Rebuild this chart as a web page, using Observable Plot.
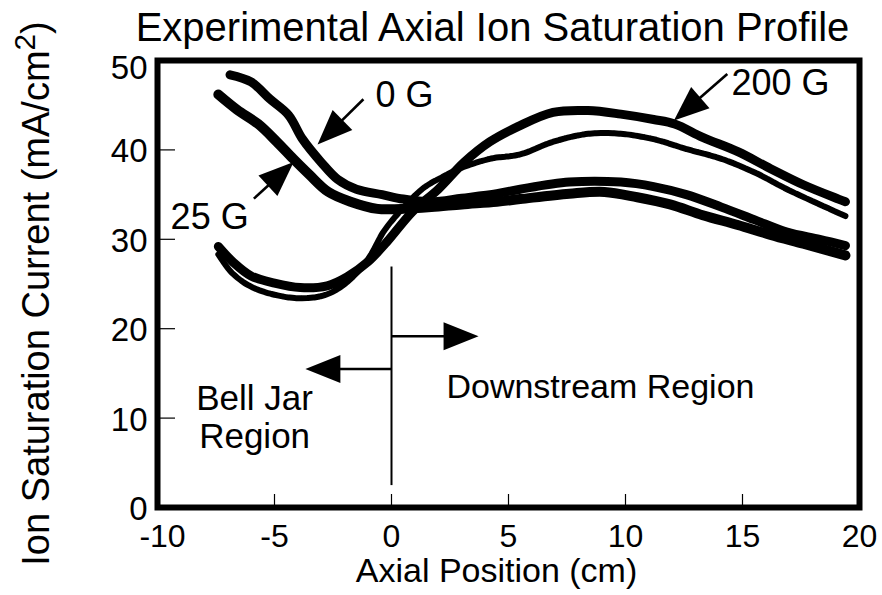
<!DOCTYPE html>
<html>
<head>
<meta charset="utf-8">
<script src="https://cdn.jsdelivr.net/npm/d3@7"></script>
<script src="https://cdn.jsdelivr.net/npm/@observablehq/plot@0.6"></script>
<style>
  html, body { margin: 0; padding: 0; background: #fff; }
  svg { display: block; }
</style>
</head>
<body>
<div id="chart"></div>
<script>
// ---------- text ----------
const titleText = "Experimental Axial Ion Saturation Profile";
const xLabelText = "Axial Position (cm)";
const yLabelText = "Ion Saturation Current (mA/cm2)";

// ---------- ticks ----------
const xTicks = [-10, -5, 0, 5, 10, 15, 20];
const yTicks = [0, 10, 20, 30, 40, 50];

// ---------- series ----------
// 0 G
const g0X = [-6.9, -6.0, -5.2, -4.4, -3.8, -3.0, -2.3, -1.5, -0.4, 0.5, 1.7, 3.0, 4.5, 5.5, 7.6, 9.8, 11.2, 12.6, 14.1, 15.5, 16.9, 18.3, 19.4];
const g0Y = [48.4, 47.6, 45.7, 43.9, 41.2, 38.6, 36.7, 35.6, 35.0, 34.5, 34.2, 34.6, 35.1, 35.6, 36.4, 36.4, 35.9, 35.0, 33.6, 32.2, 30.8, 30.0, 29.3];
// 25 G
const g25X = [-7.4, -6.6, -5.7, -4.9, -4.2, -3.5, -2.7, -1.75, -0.6, 0.4, 1.7, 3.0, 4.5, 5.5, 7.6, 9.1, 10.5, 11.9, 13.3, 14.8, 16.2, 17.6, 19.4];
const g25Y = [46.2, 44.5, 42.9, 40.9, 39.0, 37.2, 35.3, 34.2, 33.4, 33.4, 33.6, 33.9, 34.2, 34.5, 35.1, 35.3, 34.7, 33.9, 32.7, 31.6, 30.5, 29.5, 28.2];
// 200 G
const g200X = [-7.4, -6.75, -6.0, -5.0, -3.9, -2.75, -1.9, -1.0, -0.2, 0.9, 2.0, 3.1, 4.2, 5.4, 6.9, 8.4, 9.8, 11.2, 12.1, 13.3, 14.8, 16.2, 17.6, 19.1, 19.4];
const g200Y = [29.2, 27.4, 25.9, 25.1, 24.6, 24.8, 25.8, 27.5, 29.7, 33.1, 35.6, 38.6, 40.9, 42.6, 44.2, 44.4, 44.0, 43.4, 42.9, 41.4, 39.8, 37.9, 36.1, 34.5, 34.2];
// unlabeled (speckled) profile
const gMidX = [-7.4, -6.8, -6.0, -5.0, -3.9, -2.8, -1.9, -1.0, -0.3, 0.6, 1.4, 2.2, 2.8, 4.2, 5.5, 6.9, 8.4, 9.8, 11.2, 12.6, 14.1, 15.5, 16.9, 18.3, 19.4];
const gMidY = [28.3, 26.2, 24.7, 23.8, 23.4, 23.8, 25.2, 27.8, 31.0, 33.8, 35.8, 37.0, 37.8, 39.0, 39.5, 40.9, 41.8, 41.8, 41.2, 40.1, 39.0, 37.5, 35.6, 33.9, 32.6];

// ---------- annotations (data coordinates) ----------
const arrows = [
  {tail: [-1.2, 45.66], tip: [-3.16, 40.6]},   // 0 G
  {tail: [-5.88, 34.55], tip: [-4.18, 38.64]}, // 25 G
  {tail: [14.35, 48.48], tip: [12.07, 43.28]}, // 200 G
  {tail: [0, 19.15], tip: [3.72, 19.15]},      // Downstream
  {tail: [0, 15.5], tip: [-3.68, 15.5]}        // Bell jar
];
const dividerX = [0];
const dividerY = [2.45, 26.9];
const curveLabels = [
  {text: "0 G", x: -0.68, y: 44.77},
  {text: "25 G", x: -9.44, y: 31.18},
  {text: "200 G", x: 14.53, y: 46.1}
];
const regionLabels = [
  {text: "Downstream Region", x: 8.93, y: 12.25},
  {text: "Bell Jar\nRegion", x: -5.85, y: 6.68}
];

// ---------- layout ----------
const W = 882, H = 595;
const mL = 157, mR = 23, mT = 60, mB = 88;
const FONT = "'Liberation Sans', Arial, Helvetica, sans-serif";
const xDomain = [-10, 20], yDomain = [0, 50];

const sx = Plot.scale({x: {domain: xDomain, range: [mL, W - mR]}});
const sy = Plot.scale({y: {domain: yDomain, range: [H - mB, mT]}});

const rows = (xs, ys) => xs.map((x, i) => ({x, y: ys[i]}));

// arrow heads & shafts computed in pixel space, converted back through the scales
const HEAD_LEN = 35, HEAD_HALF = 14;
const heads = [];
const shafts = [];
arrows.forEach((a, k) => {
  const tx = sx.apply(a.tip[0]), ty = sy.apply(a.tip[1]);
  const ax = sx.apply(a.tail[0]), ay = sy.apply(a.tail[1]);
  const len = Math.hypot(tx - ax, ty - ay);
  const ux = (tx - ax) / len, uy = (ty - ay) / len;
  const bx = tx - HEAD_LEN * ux, by = ty - HEAD_LEN * uy;
  const nx = -uy, ny = ux;
  [[tx, ty], [bx + HEAD_HALF * nx, by + HEAD_HALF * ny], [bx - HEAD_HALF * nx, by - HEAD_HALF * ny]]
    .forEach(([px, py]) => heads.push({k, x: sx.invert(px), y: sy.invert(py)}));
  const ex = tx - (HEAD_LEN - 6) * ux, ey = ty - (HEAD_LEN - 6) * uy;
  shafts.push({x1: a.tail[0], y1: a.tail[1], x2: sx.invert(ex), y2: sy.invert(ey)});
});

const innerXTicks = xTicks.filter(d => d !== xDomain[0] && d !== xDomain[1]);
const innerYTicks = yTicks.filter(d => d !== yDomain[0] && d !== yDomain[1]);

const svg = Plot.plot({
  width: W,
  height: H,
  marginLeft: mL,
  marginRight: mR,
  marginTop: mT,
  marginBottom: mB,
  x: {domain: xDomain, axis: null},
  y: {domain: yDomain, axis: null},
  style: {fontFamily: FONT, background: "white", color: "black", overflow: "visible"},
  marks: [
    // inward ticks
    Plot.ruleX(innerXTicks, {x: d => d, insetTop: (H - mB - mT) - 13, stroke: "black", strokeWidth: 1.2}),
    Plot.ruleY(innerYTicks, {y: d => d, insetRight: (W - mR - mL) - 18, stroke: "black", strokeWidth: 1.2}),
    // data
    Plot.line(rows(gMidX, gMidY), {x: "x", y: "y", stroke: "black", strokeWidth: 6, curve: "catmull-rom", strokeDasharray: "5,1.2"}),
    Plot.line(rows(g200X, g200Y), {x: "x", y: "y", stroke: "black", strokeWidth: 9, curve: "catmull-rom", strokeLinejoin: "round"}),
    Plot.line(rows(g25X, g25Y), {x: "x", y: "y", stroke: "black", strokeWidth: 10, curve: "catmull-rom", strokeLinejoin: "round"}),
    Plot.line(rows(g0X, g0Y), {x: "x", y: "y", stroke: "black", strokeWidth: 9, curve: "catmull-rom", strokeLinejoin: "round"}),
    // divider and arrows
    Plot.ruleX(dividerX, {x: d => d, y1: dividerY[0], y2: dividerY[1], stroke: "black", strokeWidth: 2}),
    Plot.link(shafts, {x1: "x1", y1: "y1", x2: "x2", y2: "y2", stroke: "black", strokeWidth: 2.6}),
    Plot.line(heads, {x: "x", y: "y", z: "k", fill: "black", stroke: "none", curve: "linear-closed"}),
    // annotation text
    Plot.text(curveLabels, {x: "x", y: "y", text: "text", textAnchor: "start", lineAnchor: "bottom", fontSize: 36, fill: "black"}),
    Plot.text(regionLabels.slice(0, 1), {x: "x", y: "y", text: "text", textAnchor: "middle", lineAnchor: "bottom", fontSize: 34, fill: "black"}),
    Plot.text(regionLabels.slice(1), {x: "x", y: "y", text: "text", textAnchor: "middle", lineAnchor: "bottom", fontSize: 35, lineHeight: 1.08, fill: "black"}),
    // tick labels
    Plot.text(xTicks.filter(d => d !== xDomain[0]), {x: d => d, y: yDomain[0], text: d => String(d), textAnchor: "middle", lineAnchor: "bottom", dy: 39, fontSize: 32, fill: "black"}),
    Plot.text(xTicks.filter(d => d === xDomain[0]), {x: d => d, y: yDomain[0], text: d => String(d), textAnchor: "middle", lineAnchor: "bottom", dx: 5, dy: 39, fontSize: 32, fill: "black"}),
    Plot.text(yTicks.filter(d => d !== 50), {x: xDomain[0], y: d => d, text: d => String(d), textAnchor: "end", lineAnchor: "middle", dx: -10, dy: 2, fontSize: 33, fill: "black"}),
    Plot.text(yTicks.filter(d => d === 50), {x: xDomain[0], y: d => d, text: d => String(d), textAnchor: "end", lineAnchor: "middle", dx: -10, dy: 8, fontSize: 33, fill: "black"}),
    // titles
    Plot.text([titleText], {frameAnchor: "top", text: d => d, textAnchor: "middle", lineAnchor: "bottom", dx: -16, dy: -20, fontSize: 40, fill: "black"}),
    Plot.text([xLabelText], {frameAnchor: "bottom", text: d => d, textAnchor: "middle", lineAnchor: "bottom", dx: -12, dy: 74, fontSize: 34, fill: "black"}),
    Plot.text([yLabelText], {frameAnchor: "left", text: d => d, textAnchor: "middle", lineAnchor: "bottom", rotate: -90, dx: -109, dy: 9.5, fontSize: 38, fill: "black"}),
    // frame
    Plot.frame({stroke: "black", strokeWidth: 6})
  ]
});

// superscript the "2" in the y label
d3.select(svg).selectAll("text").filter(function () { return this.textContent === yLabelText; }).each(function () {
  const t = d3.select(this);
  t.text(null);
  t.append("tspan").text("Ion Saturation Current (mA/cm");
  t.append("tspan").attr("dy", "-0.45em").attr("font-size", "0.78em").text("2");
  t.append("tspan").attr("dy", "0.35em").text(")");
});

document.getElementById("chart").appendChild(svg);
</script>
</body>
</html>
